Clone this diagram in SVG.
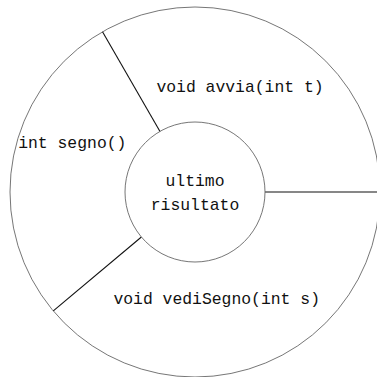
<svg xmlns="http://www.w3.org/2000/svg" width="377" height="377" viewBox="0 0 377 377">
<style>
.ring{fill:none;stroke:#666;stroke-width:0.9}
.sep{stroke:#111;stroke-width:1.1;fill:none}
.t{font-family:"Liberation Mono","DejaVu Sans Mono",monospace;font-size:16.4px;fill:#111}
</style>
<rect width="377" height="377" fill="#fff"/>
<g id="outer"><circle class="ring" cx="195" cy="192" r="185"/></g>
<g id="connectors">
<line class="sep" x1="160" y1="131.4" x2="102.5" y2="31.8"/>
<line class="sep" x1="141.4" y1="237" x2="53.3" y2="310.9"/>
<line class="sep" x1="265" y1="192" x2="380" y2="192"/>
</g>
<g id="center"><circle class="ring" cx="195" cy="192" r="70"/>
<text class="t" x="195" y="186" text-anchor="middle">ultimo</text>
<text class="t" x="195" y="209.5" text-anchor="middle">risultato</text></g>
<g id="avvia"><text class="t" x="240" y="92.3" text-anchor="middle">void avvia(int t)</text></g>
<g id="segno"><text class="t" x="72.3" y="148.3" text-anchor="middle">int segno()</text></g>
<g id="vediSegno"><text class="t" x="216.7" y="304.3" text-anchor="middle">void vediSegno(int s)</text></g>
</svg>
